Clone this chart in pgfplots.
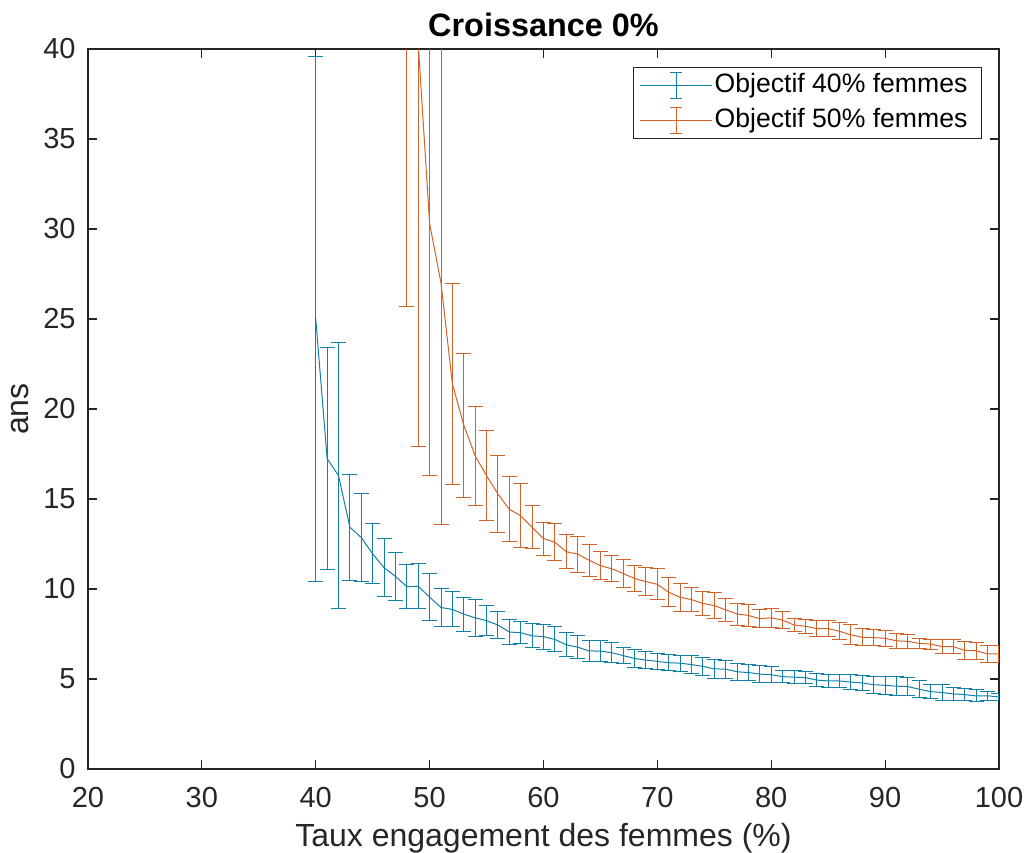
\documentclass[border=0pt]{standalone}
\usepackage{fontspec}
\setmainfont{Liberation Sans}
\usepackage{pgfplots}
\pgfplotsset{compat=1.18}
\usepackage{pgfplotstable}

\definecolor{serA}{RGB}{18,128,166}
\definecolor{serB}{RGB}{208,98,42}
\definecolor{axgray}{RGB}{38,38,38}

% Objectif 40% femmes: mean and half-width of the error bar
\pgfplotstableread{
x y e
40 25.0 14.6
41 17.25 6.15
42 16.3 7.4
43 13.43 2.93
44 12.86 2.47
45 11.95 1.67
46 11.18 1.61
47 10.7 1.35
48 10.13 1.24
49 10.15 1.26
50 9.55 1.3
51 8.97 1.05
52 8.87 0.98
53 8.6 0.95
54 8.4 1.04
55 8.24 0.83
56 8.0 0.74
57 7.61 0.72
58 7.57 0.61
59 7.4 0.66
60 7.35 0.7
61 7.2 0.69
62 6.9 0.67
63 6.77 0.62
64 6.56 0.6
65 6.55 0.58
66 6.46 0.55
67 6.3 0.45
68 6.14 0.51
69 6.05 0.47
70 5.98 0.45
71 5.9 0.45
72 5.88 0.45
73 5.8 0.48
74 5.7 0.48
75 5.56 0.52
76 5.55 0.5
77 5.4 0.47
78 5.36 0.46
79 5.27 0.47
80 5.24 0.44
81 5.13 0.34
82 5.1 0.36
83 5.08 0.33
84 4.94 0.37
85 4.89 0.37
86 4.89 0.37
87 4.83 0.43
88 4.78 0.44
89 4.68 0.48
90 4.65 0.5
91 4.6 0.53
92 4.58 0.51
93 4.43 0.48
94 4.3 0.41
95 4.25 0.42
96 4.17 0.37
97 4.13 0.35
98 4.06 0.33
99 4.07 0.24
100 4.0 0.2
}\objquarante

% Objectif 50% femmes
\pgfplotstableread{
x y e
48 46.0 20.3
49 40.3 22.4
50 30.3 14.0
51 27.0 13.4
52 21.4 5.6
53 19.1 4.0
54 17.4 2.75
55 16.3 2.5
56 15.28 2.13
57 14.43 1.8
58 14.07 1.78
59 13.43 1.2
60 12.8 0.92
61 12.6 1.02
62 12.07 0.94
63 11.94 1.0
64 11.6 0.89
65 11.3 0.76
66 11.12 0.73
67 10.86 0.79
68 10.58 0.73
69 10.41 0.76
70 10.26 0.87
71 9.82 0.8
72 9.54 0.77
73 9.41 0.68
74 9.2 0.67
75 9.08 0.73
76 8.84 0.66
77 8.61 0.61
78 8.53 0.62
79 8.35 0.5
80 8.4 0.53
81 8.27 0.46
82 8.0 0.37
83 7.93 0.38
84 7.8 0.46
85 7.8 0.44
86 7.65 0.48
87 7.45 0.56
88 7.32 0.47
89 7.3 0.45
90 7.26 0.46
91 7.12 0.42
92 7.09 0.39
93 6.98 0.28
94 6.94 0.28
95 6.8 0.41
96 6.8 0.41
97 6.59 0.5
98 6.57 0.48
99 6.39 0.48
100 6.39 0.48
}\objcinquante

\begin{document}
\begin{tikzpicture}[x=1pt,y=1pt]
\useasboundingbox (-44,-42) rectangle (468.5,384.5);
\begin{axis}[
  at={(0,0)}, anchor=south west,
  scale only axis, width=455.5pt, height=360pt,
  xmin=20, xmax=100, ymin=0, ymax=40,
  xtick={20,30,...,100}, ytick={0,5,...,40},
  axis line style={axgray, line width=0.6pt},
  tick style={axgray, line width=0.6pt},
  major tick length=4.5pt,
  tick align=inside,
  /pgf/number format/assume math mode=true,
  ticklabel style={font=\fontsize{14.5}{16}\selectfont, text=axgray, inner sep=0pt},
  xticklabel style={anchor=base, yshift=-19.5pt},
  yticklabel style={anchor=east, xshift=-6pt},
  every axis title shift=0pt,
  title={Croissance 0\%},
  title style={font=\fontsize{16.2}{19}\selectfont\bfseries, text=black,
    at={(axis description cs:0.5,1.0171)}, anchor=base, inner sep=0pt},
  xlabel={Taux engagement des femmes (\%)},
  xlabel style={font=\fontsize{16}{19}\selectfont, text=axgray,
    at={(axis description cs:0.5,-0.1083)}, anchor=base, inner sep=0pt},
  ylabel={ans},
  ylabel style={font=\fontsize{16}{19}\selectfont, text=axgray,
    at={(axis description cs:-0.0746,0.5)}, anchor=center, inner sep=0pt},
  legend style={at={(axis description cs:0.9813,0.975)}, anchor=north east,
    draw=axgray, line width=0.5pt, inner xsep=3pt, inner ysep=1.5pt,
    font=\fontsize{13.3}{15}\selectfont, text=black,
    nodes={inner sep=1pt, text height=10pt, text depth=3pt},
    row sep=2.5pt},
  legend cell align=left,
  legend image code/.code={
    \draw[#1] (0pt,0pt) -- (36pt,0pt);
    \draw[#1] (18pt,-6.5pt) -- (18pt,6.5pt);
    \draw[#1] (15pt,-6.5pt) -- (21pt,-6.5pt);
    \draw[#1] (15pt,6.5pt) -- (21pt,6.5pt);
  },
]
\addplot[serA, line width=0.5pt, mark=none,
  error bars/.cd, y dir=both, y explicit,
  error bar style={serA, line width=0.5pt},
  error mark options={rotate=90, serA, mark size=3.75pt, line width=0.5pt}]
  table[x=x, y=y, y error=e] {\objquarante};
\addlegendentry{Objectif 40\% femmes\hspace*{3pt}}
\addplot[serB, line width=0.5pt, mark=none,
  error bars/.cd, y dir=both, y explicit,
  error bar style={serB, line width=0.5pt},
  error mark options={rotate=90, serB, mark size=3.75pt, line width=0.5pt}]
  table[x=x, y=y, y error=e] {\objcinquante};
\addlegendentry{Objectif 50\% femmes\hspace*{3pt}}
\end{axis}
\end{tikzpicture}
\end{document}
